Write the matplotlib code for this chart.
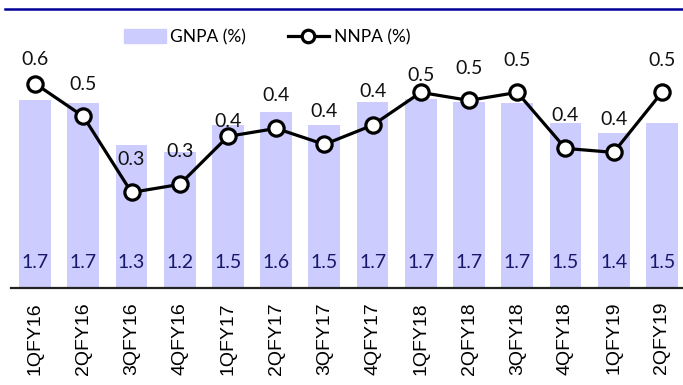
import numpy as np
import matplotlib.pyplot as plt
from matplotlib.lines import Line2D

plt.rcParams['font.family'] = ['Lato', 'DejaVu Sans']

quarters = ['1QFY16', '2QFY16', '3QFY16', '4QFY16', '1QFY17', '2QFY17', '3QFY17',
            '4QFY17', '1QFY18', '2QFY18', '3QFY18', '4QFY18', '1QFY19', '2QFY19']
gnpa = [1.71, 1.68, 1.30, 1.24, 1.48, 1.60, 1.48, 1.69, 1.72, 1.69, 1.68, 1.50, 1.41, 1.50]
nnpa = [0.552, 0.47, 0.28, 0.30, 0.42, 0.44, 0.40, 0.448, 0.53, 0.51, 0.53, 0.39, 0.38, 0.53]

BAR_COLOR = '#ccccff'
NAVY = '#17176b'

# label offsets (points) above each NNPA marker, a few nudged down
nnpa_offsets = [17, 23, 24, 24, 11, 24, 24, 24, 12, 23, 23, 24, 24, 23]

fig = plt.figure(figsize=(6.83, 3.85), dpi=100)
ax = fig.add_axes([11 / 683, 97 / 385, 674 / 683, 228 / 385])
x = np.arange(len(quarters))

ax.bar(x, gnpa, width=0.66, color=BAR_COLOR, zorder=1)
ax.set_xlim(-0.5, 13.48)
ax.set_ylim(0, 2.073)
for xi, v in zip(x, gnpa):
    ax.annotate(f'{v:.1f}', (xi, 0), xytext=(0, 18), textcoords='offset points',
                ha='center', va='center', fontsize=14, color=NAVY)

ax2 = ax.twinx()
ax2.set_ylim(0.041, 0.611)
ax2.plot(x, nnpa, color='black', lw=2.3, marker='o', ms=11,
         mfc='white', mec='black', mew=2.3, zorder=3)
for xi, v, off in zip(x, nnpa, nnpa_offsets):
    ax2.annotate(f'{v:.1f}', (xi, v), xytext=(0, off), textcoords='offset points',
                 ha='center', va='center', fontsize=14, color='#111111',
                 annotation_clip=False)

for a in (ax, ax2):
    for side in ('top', 'right', 'left'):
        a.spines[side].set_visible(False)
    a.tick_params(left=False, right=False, labelleft=False, labelright=False)
ax2.spines['bottom'].set_visible(False)
ax.spines['bottom'].set_linewidth(1.6)
ax.spines['bottom'].set_color('#222222')

ax.set_xticks(x)
ax.set_xticklabels(quarters, rotation=90)
for lbl in ax.get_xticklabels():
    lbl.set_fontfamily('Liberation Sans')
    lbl.set_fontsize(14)
ax.tick_params(axis='x', length=0, pad=10)

# blue rule under the heading
fig.add_artist(Line2D([5 / 683, 1.0], [1 - 8.5 / 385] * 2, color='#000099', lw=1.8))

handles = [plt.Rectangle((0, 0), 1, 1, color=BAR_COLOR),
           Line2D([], [], color='black', lw=2.3, marker='o', ms=9,
                  mfc='white', mec='black', mew=2.3)]
fig.legend(handles, ['GNPA (%)', 'NNPA (%)'], loc='center', ncol=2,
           bbox_to_anchor=(267 / 683, 1 - 37 / 385), frameon=False, fontsize=12.5,
           handlelength=2.4, handleheight=0.85, handletextpad=0.25, columnspacing=2.4)

fig.savefig('out.png', dpi=100)
